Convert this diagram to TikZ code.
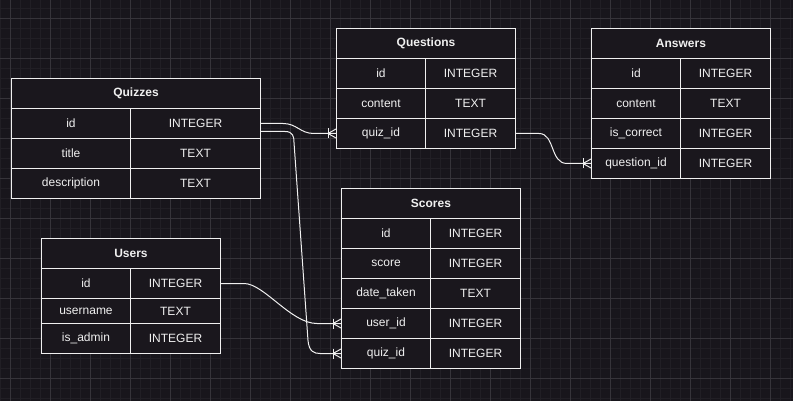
\documentclass[tikz,border=0pt]{standalone}
\usepackage{fontspec}
\setmainfont{Liberation Sans}
\usetikzlibrary{calc}
\definecolor{bg}{RGB}{24,22,28}
\definecolor{gridminor}{RGB}{33,31,37}
\definecolor{gridmajor}{RGB}{54,52,58}
\definecolor{boxfill}{RGB}{26,23,29}
\definecolor{ink}{RGB}{240,240,240}
\newcommand\tabrow[8]{%
  \node[cell, minimum width=#4, minimum height=#6] (#1n) at (#2,#3) {#7};
  \node[cell, minimum width=#5, minimum height=#6] (#1t) at (#2+#4,#3) {#8};}
\begin{document}
\begin{tikzpicture}[x=1pt,y=-1pt,
  cell/.style={draw=ink, line width=1pt, fill=boxfill, inner sep=0pt, anchor=north west,
    text=ink, font=\fontsize{12}{14}\selectfont},
  head/.style={cell, font=\fontsize{12}{14}\selectfont\bfseries, minimum height=30},
  conn/.style={draw=ink, line width=1pt},
  crowfoot/.pic={\draw[conn] (-8,-5) -- (-8,5); \draw[conn] (0,-4.5) -- (-8,0) -- (0,4.5);}
]
\useasboundingbox (0,0) rectangle (793,401);
\fill[bg] (0,0) rectangle (793,401);
\foreach \i in {0,...,79} {\draw[gridminor, line width=0.6pt] (0.3+10*\i,0) -- (0.3+10*\i,401);}
\foreach \i in {0,...,40} {\draw[gridminor, line width=0.6pt] (0,-1.7+10*\i) -- (793,-1.7+10*\i);}
\foreach \i in {0,...,19} {\draw[gridmajor, line width=0.8pt] (10.3+40*\i,0) -- (10.3+40*\i,401);}
\foreach \i in {0,...,9} {\draw[gridmajor, line width=0.8pt] (0,18.3+40*\i) -- (793,18.3+40*\i);}

% Quizzes
\node[head, minimum width=249] (qz) at (11,78) {Quizzes};
\tabrow{qzid}{11}{108}{119}{130}{30}{id}{INTEGER}
\tabrow{qztitle}{11}{138}{119}{130}{30}{title}{TEXT}
\tabrow{qzdesc}{11}{168}{119}{130}{30}{description}{TEXT}

% Questions
\node[head, minimum width=179] (qu) at (336,28) {Questions};
\tabrow{quid}{336}{58}{89}{90}{30}{id}{INTEGER}
\tabrow{qucont}{336}{88}{89}{90}{30}{content}{TEXT}
\tabrow{quqid}{336}{118}{89}{90}{30}{quiz\_id}{INTEGER}

% Answers
\node[head, minimum width=179] (an) at (591,28) {Answers};
\tabrow{anid}{591}{58}{89}{90}{30}{id}{INTEGER}
\tabrow{ancont}{591}{88}{89}{90}{30}{content}{TEXT}
\tabrow{ancorr}{591}{118}{89}{90}{30}{is\_correct}{INTEGER}
\tabrow{anqid}{591}{148}{89}{90}{30}{question\_id}{INTEGER}

% Users
\node[head, minimum width=179] (us) at (41,238) {Users};
\tabrow{usid}{41}{268}{89}{90}{30}{id}{INTEGER}
\tabrow{usname}{41}{298}{89}{90}{25}{username}{TEXT}
\tabrow{usadm}{41}{323}{89}{90}{30}{is\_admin}{INTEGER}

% Scores
\node[head, minimum width=179] (sc) at (341,188) {Scores};
\tabrow{scid}{341}{218}{89}{90}{30}{id}{INTEGER}
\tabrow{scscore}{341}{248}{89}{90}{30}{score}{INTEGER}
\tabrow{scdate}{341}{278}{89}{90}{30}{date\_taken}{TEXT}
\tabrow{scuid}{341}{308}{89}{90}{30}{user\_id}{INTEGER}
\tabrow{scqid}{341}{338}{89}{90}{30}{quiz\_id}{INTEGER}

% connectors
\draw[conn] (qzidt.east) -- ++(22,0) .. controls +(14,0) and +(-14,0) .. ($(quqidn.west)+(-22,0)$) -- (quqidn.west);
\pic at (quqidn.west) {crowfoot};

\draw[conn] ($(qzidt.east)+(0,8)$) -- ++(24,0) .. controls +(8,0) and +(0,-6) .. ++(9,11) -- ($(scqidn.west)+(-33,-13)$) .. controls +(1,11) and +(-6,0) .. ($(scqidn.west)+(-21,0)$) -- (scqidn.west);
\pic at (scqidn.west) {crowfoot};

\draw[conn] (usidt.east) -- ++(23,0) .. controls +(20,0) and +(-26,0) .. ($(scuidn.west)+(-24,0)$) -- (scuidn.west);
\pic at (scuidn.west) {crowfoot};

\draw[conn] (quqidt.east) -- ++(23,0) .. controls +(16,0) and +(-17,0) .. ($(anqidn.west)+(-24,0)$) -- (anqidn.west);
\pic at (anqidn.west) {crowfoot};
\end{tikzpicture}
\end{document}
